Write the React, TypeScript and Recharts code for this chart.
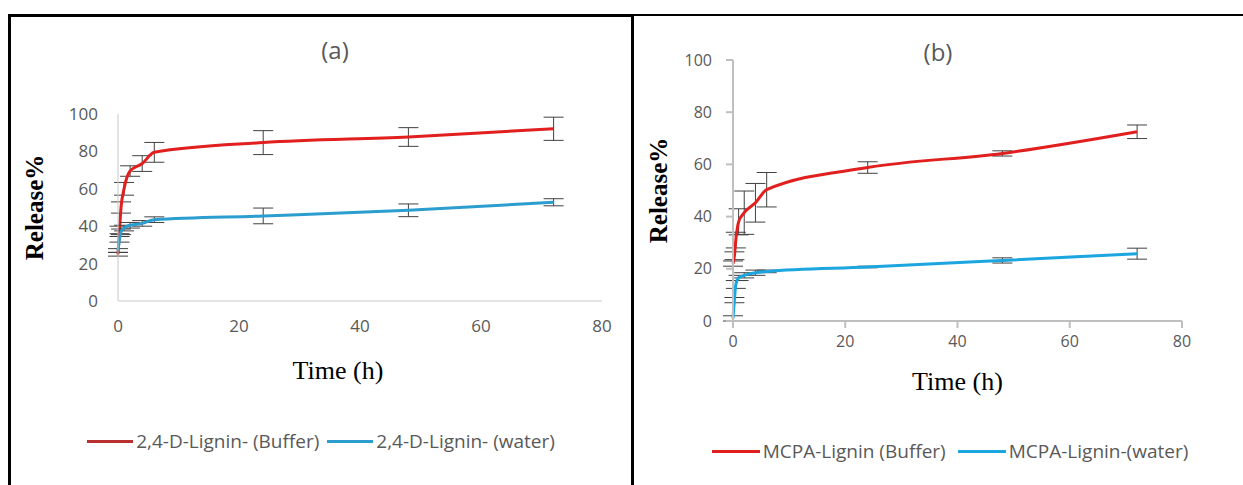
import React from "react";
import { LineChart, Line, XAxis, YAxis, ErrorBar } from "recharts";

// sampling times (h), shared by both panels
const hours = [0, 0.25, 0.5, 1, 2, 4, 6, 24, 48, 72];

// (a) 2,4-D-Lignin
const dBuffer = [25, 38, 50, 60, 69.5, 73.5, 79.5, 84.7, 87.7, 92.1];
const dBufferErr = [1, 2, 3, 3.4, 2.8, 4.2, 5.3, 6.4, 5, 6.2];
const dWater = [27, 33, 37, 39, 40.5, 41.5, 43.5, 45.5, 48.5, 52.8];
const dWaterErr = [1, 1.5, 1.5, 1.5, 1.5, 1.5, 1.5, 4.2, 3.4, 1.9];

// (b) MCPA-Lignin
const mBuffer = [22, 25, 31, 38, 41.5, 45.3, 50.3, 58.8, 64.2, 72.5];
const mBufferErr = [1, 1.5, 3, 5, 8.3, 7.4, 6.6, 2.2, 1, 2.6];
const mWater = [1, 8, 14, 16.5, 17.5, 18.5, 19, 20.7, 23.2, 25.8];
const mWaterErr = [1, 1, 1.5, 1, 1, 1, 0.5, 0.3, 1, 2.1];

const xTicks = [0, 20, 40, 60, 80];
const yTicks = [0, 20, 40, 60, 80, 100];

const RED = "#e11f1f";
const BLUE_A = "#2b9dcf";
const BLUE_B = "#1ba6e0";
const GREY = "#595959";
const SANS = "'Open Sans', sans-serif";
const SERIF = "'Liberation Serif', 'Times New Roman', serif";

const rows = (buf: number[], bufErr: number[], wat: number[], watErr: number[]) =>
  hours.map((t, i) => ({ t, buffer: buf[i], bufferErr: bufErr[i], water: wat[i], waterErr: watErr[i] }));

const dataA = rows(dBuffer, dBufferErr, dWater, dWaterErr);
const dataB = rows(mBuffer, mBufferErr, mWater, mWaterErr);

function LegendRow({ items, top, left, width, lineW, gap }: any) {
  return (
    <div
      style={{
        position: "absolute",
        top,
        left,
        width,
        height: 24,
        display: "flex",
        justifyContent: "center",
        alignItems: "center",
        fontFamily: SANS,
        fontSize: 19,
        color: GREY,
        whiteSpace: "nowrap",
      }}
    >
      {items.map((it: any, i: number) => (
        <div key={i} style={{ display: "flex", alignItems: "center", marginLeft: i ? gap : 0 }}>
          <div style={{ width: lineW, height: 3, background: it.color, marginRight: 3 }} />
          <span>{it.label}</span>
        </div>
      ))}
    </div>
  );
}

const abs = (l: number, t: number, w: number, h: number): React.CSSProperties => ({
  position: "absolute",
  left: l,
  top: t,
  width: w,
  height: h,
  background: "#000",
});

export default function App() {
  return (
    <div style={{ position: "fixed", left: 0, top: 0, width: 1243, height: 485, background: "#fff", overflow: "hidden" }}>
      {/* panel frames */}
      <div style={abs(8, 14, 626, 3)} />
      <div style={abs(8, 14, 3, 471)} />
      <div style={abs(631, 14, 3, 471)} />
      <div style={abs(634, 14, 609, 2)} />

      <div style={{ position: "absolute", left: 300, top: 33, width: 70, textAlign: "center", fontFamily: SANS, fontSize: 24, color: GREY }}>
        (a)
      </div>
      <div style={{ position: "absolute", left: 903, top: 35, width: 70, textAlign: "center", fontFamily: SANS, fontSize: 24, color: GREY }}>
        (b)
      </div>

      <div style={{ position: "absolute", left: 0, top: 0 }}>
        <LineChart width={640} height={485} data={dataA} margin={{ top: 114, right: 38, bottom: 154, left: 60 }}>
          <XAxis
            type="number"
            dataKey="t"
            domain={[0, 80]}
            ticks={xTicks}
            height={30}
            axisLine={{ stroke: "#c8c8c8" }}
            tickLine={false}
            tickSize={6}
            tickMargin={13}
            tick={{ fill: GREY, fontSize: 17, fontFamily: SANS }}
            label={{ value: "Time (h)", position: "center", dx: -22, dy: 54, fill: "#000", fontSize: 26, fontFamily: SERIF }}
          />
          <YAxis
            type="number"
            domain={[0, 100]}
            ticks={yTicks}
            width={58}
            axisLine={{ stroke: "#c8c8c8" }}
            tickLine={false}
            tickSize={6}
            tickMargin={14}
            tick={{ fill: GREY, fontSize: 17, fontFamily: SANS }}
            label={{ value: "Release%", angle: -90, position: "center", dx: -55, fill: "#000", fontSize: 25, fontWeight: "bold", fontFamily: SERIF }}
          />
          <Line dataKey="buffer" type="monotone" stroke={RED} strokeWidth={3} dot={false} isAnimationActive={false}>
            <ErrorBar dataKey="bufferErr" direction="y" width={10} stroke="#404040" strokeWidth={1} />
          </Line>
          <Line dataKey="water" type="monotone" stroke={BLUE_A} strokeWidth={3} dot={false} isAnimationActive={false}>
            <ErrorBar dataKey="waterErr" direction="y" width={10} stroke="#404040" strokeWidth={1} />
          </Line>
        </LineChart>
      </div>

      <div style={{ position: "absolute", left: 640, top: 0 }}>
        <LineChart width={603} height={485} data={dataB} margin={{ top: 60, right: 61, bottom: 134, left: 40 }}>
          <XAxis
            type="number"
            dataKey="t"
            domain={[0, 80]}
            ticks={xTicks}
            height={30}
            axisLine={{ stroke: "#bfbfbf", strokeWidth: 2 }}
            tickLine={{ stroke: "#bfbfbf", strokeWidth: 2 }}
            tickSize={7}
            tickMargin={8}
            tick={{ fill: GREY, fontSize: 16, fontFamily: SANS }}
            label={{ value: "Time (h)", position: "center", dx: 0, dy: 45, fill: "#000", fontSize: 26, fontFamily: SERIF }}
          />
          <YAxis
            type="number"
            domain={[0, 100]}
            ticks={yTicks}
            width={53}
            axisLine={{ stroke: "#bfbfbf", strokeWidth: 2 }}
            tickLine={{ stroke: "#bfbfbf", strokeWidth: 2 }}
            tickSize={7}
            tickMargin={14}
            tick={{ fill: GREY, fontSize: 16, fontFamily: SANS }}
            label={{ value: "Release%", angle: -90, position: "center", dx: -48, fill: "#000", fontSize: 25, fontWeight: "bold", fontFamily: SERIF }}
          />
          <Line dataKey="buffer" type="monotone" stroke={RED} strokeWidth={3} dot={false} isAnimationActive={false}>
            <ErrorBar dataKey="bufferErr" direction="y" width={10} stroke="#404040" strokeWidth={1} />
          </Line>
          <Line dataKey="water" type="monotone" stroke={BLUE_B} strokeWidth={3} dot={false} isAnimationActive={false}>
            <ErrorBar dataKey="waterErr" direction="y" width={10} stroke="#404040" strokeWidth={1} />
          </Line>
        </LineChart>
      </div>

      <LegendRow
        top={429}
        left={11}
        width={620}
        lineW={46}
        gap={8}
        items={[
          { label: "2,4-D-Lignin- (Buffer)", color: "#b83030" },
          { label: "2,4-D-Lignin- (water)", color: BLUE_A },
        ]}
      />
      <LegendRow
        top={439}
        left={634}
        width={632}
        lineW={48}
        gap={12}
        items={[
          { label: "MCPA-Lignin (Buffer)", color: RED },
          { label: "MCPA-Lignin-(water)", color: BLUE_B },
        ]}
      />
    </div>
  );
}
